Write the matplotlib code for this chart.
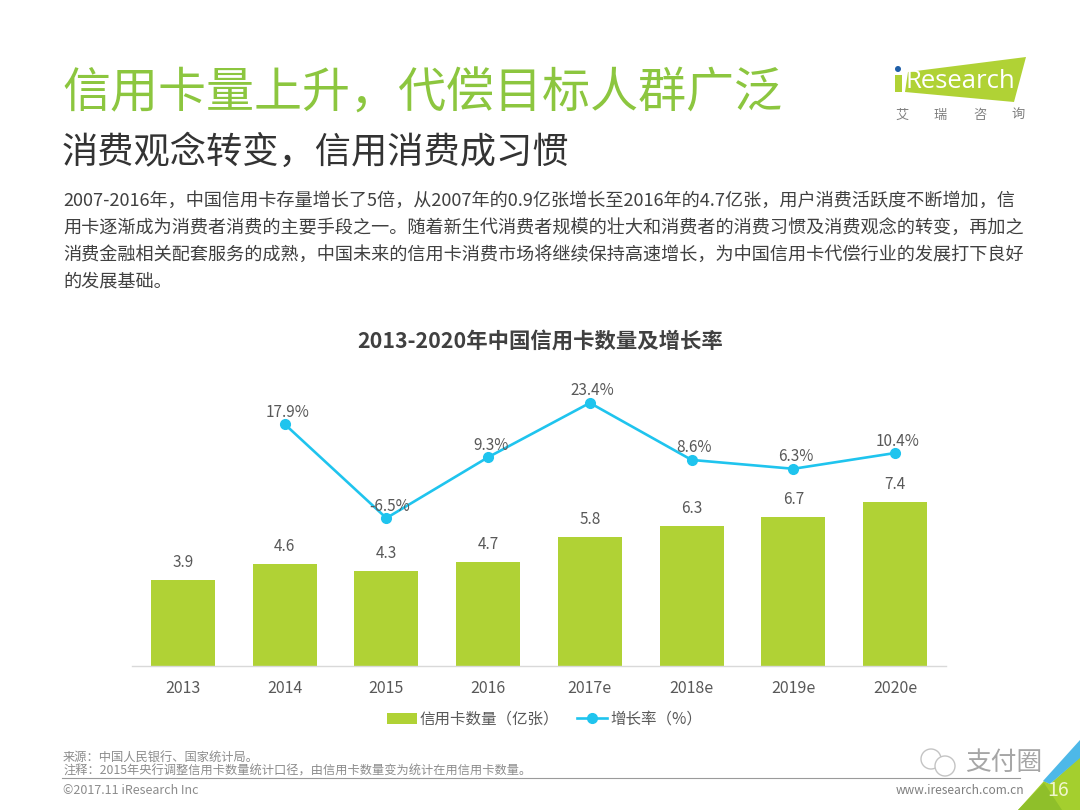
import matplotlib
matplotlib.use("Agg")
import matplotlib.pyplot as plt
from matplotlib.patches import Polygon, Circle

plt.rcParams['font.family'] = ['Noto Sans CJK SC', 'DejaVu Sans']

# data
years = ['2013', '2014', '2015', '2016', '2017e', '2018e', '2019e', '2020e']
cards = [3.9, 4.6, 4.3, 4.7, 5.8, 6.3, 6.7, 7.4]
growth = [None, 17.9, -6.5, 9.3, 23.4, 8.6, 6.3, 10.4]
growth_labels = ['', '17.9%', '-6.5%', '9.3%', '23.4%', '8.6%', '6.3%', '10.4%']

title = '信用卡量上升，代偿目标人群广泛'
subtitle = '消费观念转变，信用消费成习惯'
body = ['2007-2016年，中国信用卡存量增长了5倍，从2007年的0.9亿张增长至2016年的4.7亿张，用户消费活跃度不断增加，信',
        '用卡逐渐成为消费者消费的主要手段之一。随着新生代消费者规模的壮大和消费者的消费习惯及消费观念的转变，再加之',
        '消费金融相关配套服务的成熟，中国未来的信用卡消费市场将继续保持高速增长，为中国信用卡代偿行业的发展打下良好',
        '的发展基础。']
chart_title = '2013-2020年中国信用卡数量及增长率'
notes = ['来源：中国人民银行、国家统计局。',
         '注释：2015年央行调整信用卡数量统计口径，由信用卡数量变为统计在用信用卡数量。']

green = '#b0d235'
title_green = '#8cc63f'
cyan = '#1fc4ee'
grey = '#595959'

W, H = 1080, 810
fig = plt.figure(figsize=(10.8, 8.1), dpi=100)

# page layer in pixel coords
bg = fig.add_axes([0, 0, 1, 1])
bg.set_xlim(0, W)
bg.set_ylim(H, 0)
bg.axis('off')

bg.text(62, 94, title, fontsize=34.6, color=title_green, va='center', ha='left')
bg.text(62, 153, subtitle, fontsize=26.1, color='#333333', va='center', ha='left')
for i, line in enumerate(body):
    bg.text(63, 201 + i * 27, line, fontsize=13.05, color='#404040', va='center', ha='left')
bg.text(540, 342, chart_title, fontsize=15.4, fontweight='bold', color='#404040', va='center', ha='center')

# logo
bg.add_patch(Polygon([[908, 72], [1026, 57], [1014, 102], [905, 92]], closed=True, fc=green, ec='none'))
bg.add_patch(Circle((898, 69), 3, fc='#1f5fa8', ec='none'))
bg.add_patch(Polygon([[895, 75], [902, 75], [902, 92], [895, 92]], closed=True, fc=green, ec='none'))
bg.text(906, 82, 'Research', fontsize=18.5, color='white', va='center', ha='left', family=['Open Sans'])
for xp, ch in zip([902, 940, 980, 1018], '艾瑞咨询'):
    bg.text(xp, 115, ch, fontsize=9.5, color='#808080', va='center', ha='center')

# footer
bg.plot([62, 1020], [778, 778], color='#9a9a9a', lw=0.8)
bg.text(63, 757, notes[0], fontsize=8.8, color='#8c8c8c', va='center', ha='left')
bg.text(63, 771, notes[1], fontsize=8.8, color='#8c8c8c', va='center', ha='left')
bg.text(63, 791, '©2017.11 iResearch Inc', fontsize=9, color='#8c8c8c', va='center', ha='left')
bg.text(1024, 791, 'www.iresearch.com.cn', fontsize=8.6, color='#7f7f7f', va='center', ha='right')

# corner
bg.add_patch(Polygon([[1080, 757], [1080, 810], [1018, 810], [1044, 781], [1050, 784]], closed=True, fc='#a4cf2e', ec='none'))
bg.add_patch(Polygon([[1018, 810], [1044, 783], [1062, 810]], closed=True, fc='#8fbf2a', ec='none'))
bg.add_patch(Polygon([[1080, 740], [1080, 758], [1050, 784], [1043, 781]], closed=True, fc='#4db8e8', ec='none'))
bg.text(1058, 791, '16', fontsize=14, color='#f0f6cc', va='center', ha='center')

# watermark
bg.add_patch(Circle((931, 759), 10, fc='none', ec='#c4c4c4', lw=1))
bg.add_patch(Circle((945, 766), 10, fc='white', ec='#c4c4c4', lw=1))
bg.text(1004, 763, '支付圈', fontsize=18.5, color='#a6a6a6', va='center', ha='center')

# chart
left, right, top, base = 132, 946, 380, 666
ax = fig.add_axes([left / W, 1 - base / H, (right - left) / W, (base - top) / H])
ax.patch.set_alpha(0)
xs = list(range(len(years)))
bars = ax.bar(xs, cards, width=0.63, color=green, zorder=2)
ax.set_xlim(-0.5, 7.5)
ax.set_ylim(0, 12.9)
ax.set_xticks(xs)
ax.set_xticklabels(years, fontsize=11.5, color=grey)
ax.tick_params(axis='x', length=0, pad=10)
ax.set_yticks([])
for s in ['top', 'left', 'right']:
    ax.spines[s].set_visible(False)
ax.spines['bottom'].set_color('#d9d9d9')
ax.spines['bottom'].set_linewidth(1)
for x, v in zip(xs, cards):
    ax.annotate(str(v), (x, v), xytext=(0, 6.5), textcoords='offset points', ha='center',
                va='bottom', fontsize=11, color=grey)

ax2 = ax.twinx()
ax2.patch.set_alpha(0)
ax2.set_ylim(-44.9, 29.35)
ax2.set_yticks([])
for s in ['top', 'left', 'right', 'bottom']:
    ax2.spines[s].set_visible(False)
gx = xs[1:]
gy = growth[1:]
line, = ax2.plot(gx, gy, color=cyan, lw=1.9, marker='o', ms=7, zorder=3)
for x, v, lab in zip(gx, gy, growth_labels[1:]):
    ax2.annotate(lab, (x, v), xytext=(2, 2.5), textcoords='offset points', ha='center',
                 va='bottom', fontsize=11, color=grey)

leg = fig.legend([bars, line], ['信用卡数量（亿张）', '增长率（%）'], loc='center',
                 bbox_to_anchor=(544.5 / W, 1 - 719 / H), ncol=2, frameon=False, fontsize=11.2,
                 labelcolor=grey, handlelength=1.9, handletextpad=0.2, columnspacing=1.15)

fig.savefig('out.png', dpi=100)
